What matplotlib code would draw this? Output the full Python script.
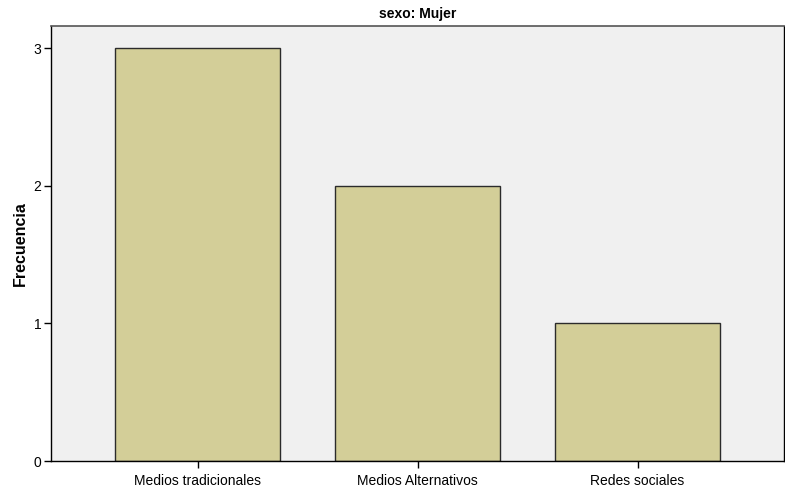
import matplotlib
matplotlib.use('Agg')
import matplotlib.pyplot as plt

categorias = ['Medios tradicionales', 'Medios Alternativos', 'Redes sociales']
frecuencia = [3, 2, 1]
yticks = [0, 1, 2, 3]

plt.rcParams['font.family'] = ['Liberation Sans', 'DejaVu Sans']

fig = plt.figure(figsize=(7.85, 4.91), dpi=100)
ax = fig.add_axes([0.065, 0.061, 0.934, 0.886])
ax.set_facecolor('#F0F0F0')

x = range(len(categorias))
ax.bar(x, frecuencia, width=0.75, color='#D3CE98', edgecolor='#2b2b2b', linewidth=1.0)

ax.set_xlim(-0.667, 2.667)
ax.set_ylim(0, 3.16)
ax.set_xticks(list(x))
ax.set_xticklabels(categorias, fontsize=10)
ax.set_yticks(yticks)
ax.set_yticklabels([str(v) for v in yticks], fontsize=10)
ax.tick_params(direction='out', length=5, width=1, colors='black', pad=2)
ax.tick_params(axis='x', pad=4)

ax.set_ylabel('Frecuencia', fontsize=11.5, fontweight='bold', labelpad=4)
ax.set_title('sexo: Mujer', fontsize=10, fontweight='bold', pad=6)

for s in ['left', 'bottom', 'right']:
    ax.spines[s].set_color('black')
    ax.spines[s].set_linewidth(1)
ax.spines['top'].set_color('#555555')
ax.spines['top'].set_linewidth(1.2)

fig.savefig('out.png', dpi=100)
